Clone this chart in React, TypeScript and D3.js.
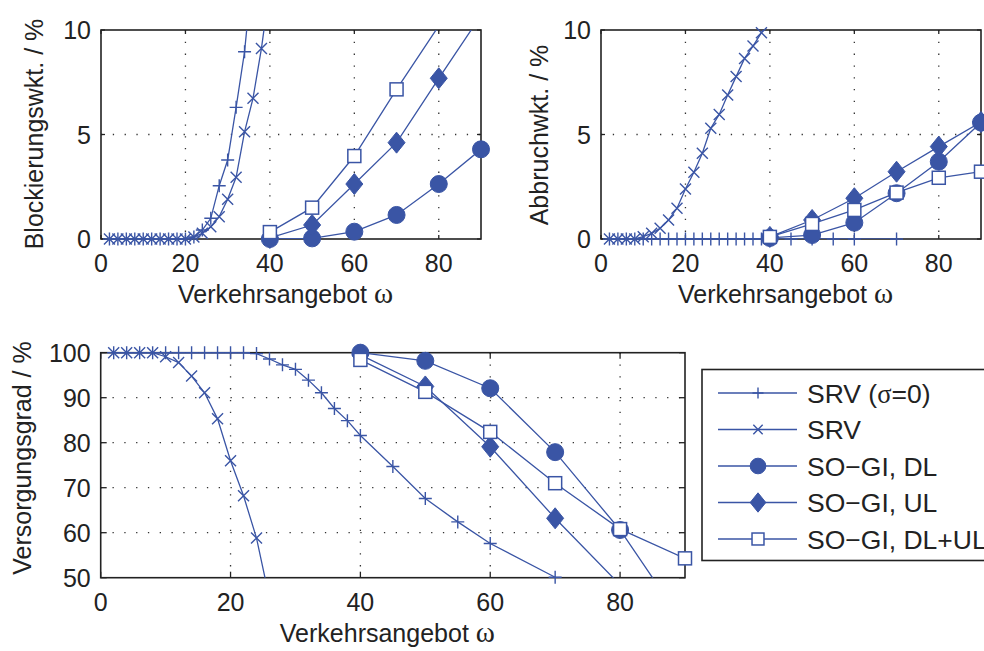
import React from "react";
import * as d3 from "d3";

// ---------- data ----------
// Top-left: Blockierungswahrscheinlichkeit
const blkSrv0X = [2, 4, 6, 8, 10, 12, 14, 16, 18, 20, 22, 24, 26, 28, 30, 32, 34, 36];
const blkSrv0Y = [0, 0, 0, 0, 0, 0, 0, 0, 0, 0, 0.1, 0.43, 0.99, 2.55, 3.78, 6.3, 8.96, 13.1];
const blkSrvX = [2, 4, 6, 8, 10, 12, 14, 16, 18, 20, 22, 24, 26, 28, 30, 32, 34, 36, 38, 40];
const blkSrvY = [0, 0, 0, 0, 0, 0, 0, 0, 0, 0, 0.1, 0.27, 0.59, 1.07, 1.9, 2.95, 5.13, 6.73, 9.12, 12.1];
const soX = [40, 50, 60, 70, 80, 90];
const blkDL = [0, 0.03, 0.35, 1.15, 2.63, 4.29];
const blkUL = [0.05, 0.67, 2.63, 4.61, 7.69, 10.7];
const blkDLUL = [0.33, 1.5, 3.97, 7.16, 10.2, 13.5];

// Top-right: Abbruchwahrscheinlichkeit
const abbSrv0X = [2, 4, 6, 8, 10, 12, 14, 16, 18, 20, 22, 24, 26, 28, 30, 32, 34, 36, 38, 40, 45, 50, 55, 60, 70];
const abbSrv0Y = [0, 0, 0, 0, 0, 0, 0, 0, 0, 0, 0, 0, 0, 0, 0, 0, 0, 0, 0, 0, 0, 0, 0, 0, 0];
const abbSrvX = [2, 4, 6, 8, 10, 12, 14, 16, 18, 20, 22, 24, 26, 28, 30, 32, 34, 36, 38, 40];
const abbSrvY = [0, 0, 0, 0, 0.11, 0.27, 0.51, 0.91, 1.47, 2.39, 3.19, 4.1, 5.3, 5.96, 6.89, 7.77, 8.64, 9.23, 9.87, 10.5];
const abbDL = [0.05, 0.19, 0.78, 2.19, 3.7, 5.57];
const abbUL = [0.1, 0.91, 1.95, 3.22, 4.42, 5.6];
const abbDLUL = [0.1, 0.72, 1.39, 2.22, 2.93, 3.22];

// Bottom: Versorgungsgrad
const vsgSrv0X = [2, 4, 6, 8, 10, 12, 14, 16, 18, 20, 22, 24, 26, 28, 30, 32, 34, 36, 38, 40, 45, 50, 55, 60, 70];
const vsgSrv0Y = [100, 100, 100, 100, 100, 100, 100, 100, 100, 100, 100, 99.8, 98.6, 97.3, 96.3, 93.9, 91.1, 87.6, 84.9, 81.6, 74.7, 67.6, 62.4, 57.6, 50.1];
const vsgSrvX = [2, 4, 6, 8, 10, 12, 14, 16, 18, 20, 22, 24, 26];
const vsgSrvY = [100, 100, 100, 100, 99.1, 97.8, 94.8, 91.1, 85.3, 76, 68.2, 58.8, 45.3];
const vsgDL = [100, 98.2, 92.1, 77.9, 60.6, 39.4];
const vsgUL = [99.5, 92.5, 79.1, 63.2, 48.4, 33];
const vsgDLUL = [98.4, 91.3, 82.4, 71, 60.8, 54.3];

const xTicks = [0, 20, 40, 60, 80];
const topYTicks = [0, 5, 10];
const botYTicks = [50, 60, 70, 80, 90, 100];

const legendNames = ["SRV (σ=0)", "SRV", "SO−GI, DL", "SO−GI, UL", "SO−GI, DL+UL"];
const markerKinds = ["plus", "cross", "circle", "diamond", "square"];

// ---------- style ----------
const BLUE = "#3a55a5";
const FONT = "'Liberation Sans', Arial, Helvetica, sans-serif";
const SERIF = "'Liberation Serif', 'DejaVu Serif', serif";
const FS = 25;
const LFS = 26.5;

type Series = { xs: number[]; ys: number[]; kind: string };

function Marker({ kind, x, y, s = 1 }: { kind: string; x: number; y: number; s?: number }) {
  const t = `translate(${x},${y})`;
  switch (kind) {
    case "plus":
      return <path transform={t} d={`M${-6.5 * s},0H${6.5 * s}M0,${-6.5 * s}V${6.5 * s}`} stroke={BLUE} strokeWidth={1.4} fill="none" />;
    case "cross":
      return <path transform={t} d={`M${-5.5 * s},${-5.5 * s}L${5.5 * s},${5.5 * s}M${-5.5 * s},${5.5 * s}L${5.5 * s},${-5.5 * s}`} stroke={BLUE} strokeWidth={1.4} fill="none" />;
    case "circle":
      return <circle cx={x} cy={y} r={8.5 * s} fill={BLUE} stroke={BLUE} strokeWidth={1} />;
    case "diamond":
      return <path transform={t} d={`M0,${-10.5 * s}L${8.5 * s},0L0,${10.5 * s}L${-8.5 * s},0Z`} fill={BLUE} stroke={BLUE} strokeWidth={1} />;
    case "square":
      return <rect x={x - 6.5 * s} y={y - 6.5 * s} width={13 * s} height={13 * s} fill="#fff" stroke={BLUE} strokeWidth={1.5} />;
  }
  return null;
}

function Panel(props: {
  id: string;
  x0: number; x1: number; y0: number; y1: number;
  yDomain: [number, number];
  yTicks: number[];
  tickLen: number;
  series: Series[];
  yLabel: string;
  yLabelX: number;
  yLabelY: number;
}) {
  const { id, x0, x1, y0, y1, yDomain, yTicks, tickLen, series, yLabel, yLabelX, yLabelY } = props;
  const xs = d3.scaleLinear().domain([0, 90]).range([x0, x1]);
  const ys = d3.scaleLinear().domain(yDomain).range([y1, y0]);
  const line = d3.line<[number, number]>().x((d) => xs(d[0])).y((d) => ys(d[1]));
  const cx = (x0 + x1) / 2;
  const eps = 1e-9;
  return (
    <g>
      <defs>
        <clipPath id={id}>
          <rect x={x0} y={y0} width={x1 - x0} height={y1 - y0} />
        </clipPath>
      </defs>
      <rect x={x0} y={y0} width={x1 - x0} height={y1 - y0} fill="#fff" />
      {/* grid */}
      {xTicks.filter((t) => t > 0).map((t) => (
        <line key={"gx" + t} x1={xs(t)} x2={xs(t)} y1={y0} y2={y1} stroke="#333" strokeWidth={1.3} strokeDasharray="1.3,10.5" />
      ))}
      {yTicks.filter((t) => t > yDomain[0] && t < yDomain[1]).map((t) => (
        <line key={"gy" + t} x1={x0} x2={x1} y1={ys(t)} y2={ys(t)} stroke="#333" strokeWidth={1.3} strokeDasharray="1.3,10.5" />
      ))}
      {/* ticks */}
      {xTicks.map((t) => (
        <g key={"tx" + t}>
          <line x1={xs(t)} x2={xs(t)} y1={y1} y2={y1 - tickLen} stroke="#222" strokeWidth={1.3} />
          <line x1={xs(t)} x2={xs(t)} y1={y0} y2={y0 + tickLen} stroke="#222" strokeWidth={1.3} />
          <text x={xs(t)} y={y1 + 33} textAnchor="middle" fontSize={FS} fontFamily={FONT} fill="#222">{t}</text>
        </g>
      ))}
      {yTicks.map((t) => (
        <g key={"ty" + t}>
          <line x1={x0} x2={x0 + tickLen} y1={ys(t)} y2={ys(t)} stroke="#222" strokeWidth={1.3} />
          <line x1={x1} x2={x1 - tickLen} y1={ys(t)} y2={ys(t)} stroke="#222" strokeWidth={1.3} />
          <text x={x0 - 10} y={ys(t)} dy="0.36em" textAnchor="end" fontSize={FS} fontFamily={FONT} fill="#222">{t}</text>
        </g>
      ))}
      <rect x={x0} y={y0} width={x1 - x0} height={y1 - y0} fill="none" stroke="#222" strokeWidth={1.6} />
      {/* data */}
      {series.map((s, i) => {
        const pts: [number, number][] = s.xs.map((x, j) => [x, s.ys[j]]);
        return (
          <g key={"s" + i}>
            <path d={line(pts) || ""} fill="none" stroke={BLUE} strokeWidth={1.3} clipPath={`url(#${id})`} />
            {pts
              .filter((p) => p[1] >= yDomain[0] - eps && p[1] <= yDomain[1] + eps && p[0] <= 90)
              .map((p, j) => (
                <Marker key={j} kind={s.kind} x={xs(p[0])} y={ys(p[1])} />
              ))}
          </g>
        );
      })}
      {/* labels */}
      <text x={cx + 76} y={y1 + 64} textAnchor="end" fontSize={FS} fontFamily={FONT} fill="#222">Verkehrsangebot</text>
      <text x={cx + 83} y={y1 + 64} textAnchor="start" fontSize={29} fontFamily={SERIF} fill="#222">ω</text>
      <text transform={`translate(${yLabelX},${yLabelY}) rotate(-90)`} textAnchor="middle" fontSize={FS} fontFamily={FONT} fill="#222">{yLabel}</text>
    </g>
  );
}

export default function App() {
  const tl: Series[] = [
    { xs: blkSrv0X, ys: blkSrv0Y, kind: "plus" },
    { xs: blkSrvX, ys: blkSrvY, kind: "cross" },
    { xs: soX, ys: blkDL, kind: "circle" },
    { xs: soX, ys: blkUL, kind: "diamond" },
    { xs: soX, ys: blkDLUL, kind: "square" },
  ];
  const tr: Series[] = [
    { xs: abbSrv0X, ys: abbSrv0Y, kind: "plus" },
    { xs: abbSrvX, ys: abbSrvY, kind: "cross" },
    { xs: soX, ys: abbDL, kind: "circle" },
    { xs: soX, ys: abbUL, kind: "diamond" },
    { xs: soX, ys: abbDLUL, kind: "square" },
  ];
  const bt: Series[] = [
    { xs: vsgSrv0X, ys: vsgSrv0Y, kind: "plus" },
    { xs: vsgSrvX, ys: vsgSrvY, kind: "cross" },
    { xs: soX, ys: vsgDL, kind: "circle" },
    { xs: soX, ys: vsgUL, kind: "diamond" },
    { xs: soX, ys: vsgDLUL, kind: "square" },
  ];
  const legX0 = 702, legY0 = 369.5, legY1 = 560.5;
  const rowY = d3.scaleLinear().domain([0, 4]).range([393, 539]);
  return (
    <svg width={984} height={651} style={{ position: "absolute", left: 0, top: 0, background: "#fff" }}>
      <rect width={984} height={651} fill="#fff" />
      <Panel id="clipTL" x0={101} x1={481} y0={30} y1={239} yDomain={[0, 10]} yTicks={topYTicks} tickLen={4}
        series={tl} yLabel="Blockierungswkt. / %" yLabelX={43} yLabelY={134} />
      <Panel id="clipTR" x0={601} x1={981} y0={30} y1={239} yDomain={[0, 10]} yTicks={topYTicks} tickLen={4}
        series={tr} yLabel="Abbruchwkt. / %" yLabelX={548} yLabelY={135} />
      <Panel id="clipB" x0={100.7} x1={685} y0={352.7} y1={577.7} yDomain={[50, 100]} yTicks={botYTicks} tickLen={6}
        series={bt} yLabel="Versorgungsgrad / %" yLabelX={31} yLabelY={458} />
      {/* legend */}
      <rect x={legX0} y={legY0} width={320} height={legY1 - legY0} fill="#fff" stroke="#222" strokeWidth={1.6} />
      {legendNames.map((name, i) => {
        const y = rowY(i);
        return (
          <g key={name}>
            <line x1={718} x2={797} y1={y} y2={y} stroke={BLUE} strokeWidth={1.3} />
            <Marker kind={markerKinds[i]} x={758} y={y} s={i < 2 ? 0.85 : 0.92} />
            <text x={807} y={y} dy="0.36em" fontSize={LFS} fontFamily={FONT} fill="#222">
              {name.includes("σ") ? (
                <>
                  SRV (<tspan fontFamily={SERIF}>σ</tspan>=0)
                </>
              ) : (
                name
              )}
            </text>
          </g>
        );
      })}
    </svg>
  );
}
